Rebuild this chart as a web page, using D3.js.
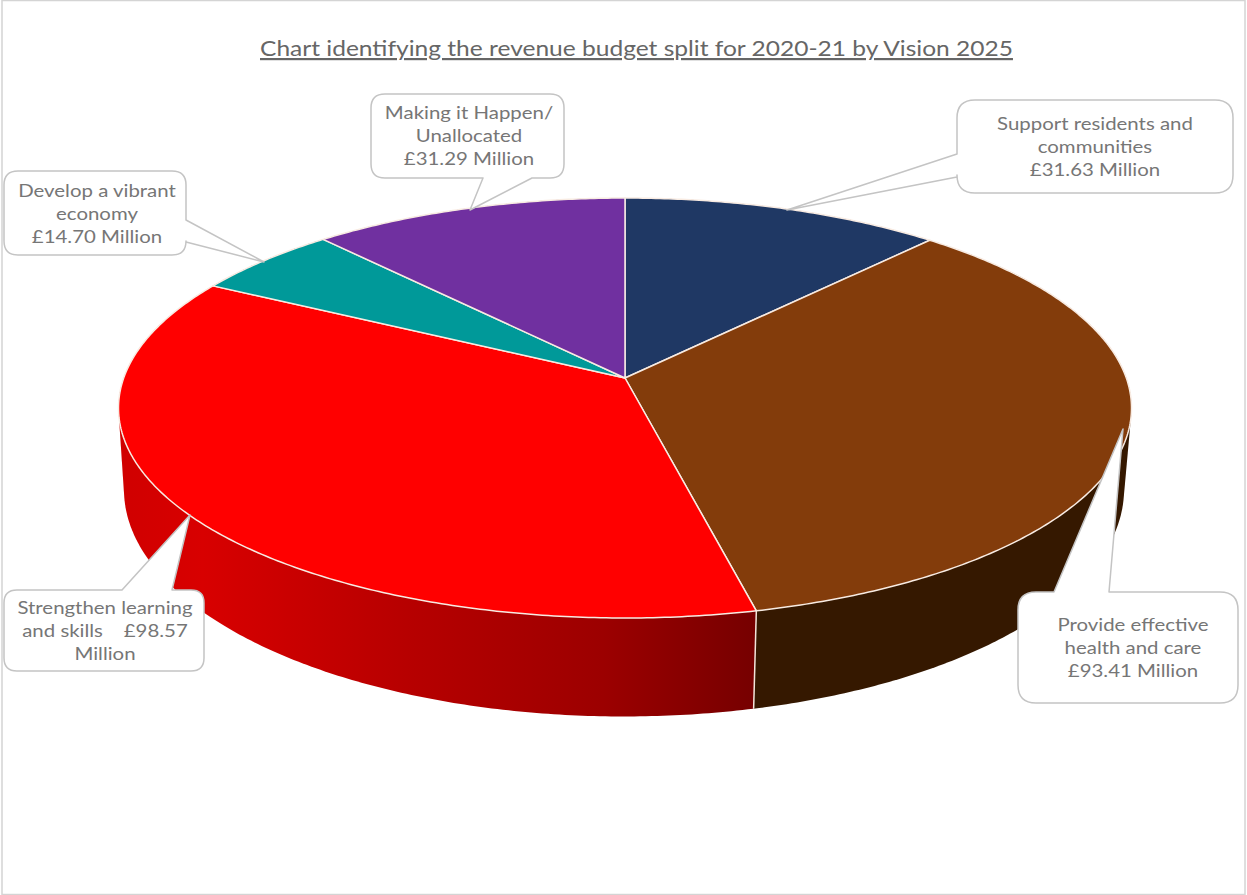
<!DOCTYPE html>
<html>
<head>
<meta charset="utf-8">
<script src="https://cdnjs.cloudflare.com/ajax/libs/d3/7.8.5/d3.min.js"></script>
<style>
html,body{margin:0;padding:0;background:#fff;}
svg{display:block;}
text{font-family:Lato,"Open Sans",sans-serif;}
</style>
</head>
<body>
<svg id="chart" width="1247" height="895"></svg>
<script>
// Revenue budget split, £ million
const categories = [
  "Support residents and communities",
  "Provide effective health and care",
  "Strengthen learning and skills",
  "Develop a vibrant economy",
  "Making it Happen/Unallocated"
];
const budgetMillions = [31.63, 93.41, 98.57, 14.70, 31.29];
const topColours = ["#1f3864", "#833c0b", "#ff0000", "#009999", "#7030a0"];
const titleText = "Chart identifying the revenue budget split for 2020-21 by Vision 2025";
const calloutLines = [
  ["Support residents and", "communities", "£31.63 Million"],
  ["Provide effective", "health and care", "£93.41 Million"],
  ["Strengthen learning", "and skills    £98.57", "Million"],
  ["Develop a vibrant", "economy", "£14.70 Million"],
  ["Making it Happen/", "Unallocated", "£31.29 Million"]
];

const W = 1247, H = 895;
const svg = d3.select("#chart");

// Perspective view of the pie disc: nearer points are drawn larger.
const topDisc = {cx: 625, cy: 378, a: 501.3, b: 205.7, k: 1 / 7};
const baseDisc = {cx: 624, cy: 457, a: 494.9, b: 222.4, k: 1 / 7};
function project(disc, angle) {
  const X = Math.sin(angle), Y = -Math.cos(angle), w = 1 - disc.k * Y;
  return [disc.cx + disc.a * X / w, disc.cy + disc.b * Y / w];
}
function arcPoints(disc, a0, a1) {
  const n = Math.max(2, Math.ceil((a1 - a0) / 0.01));
  return d3.range(n + 1).map(i => project(disc, a0 + (a1 - a0) * i / n));
}

const pie = d3.pie().sort(null).value(d => d);
const arcs = pie(budgetMillions);
const line = d3.line();

const defs = svg.append("defs");
const redWall = defs.append("linearGradient")
  .attr("id", "wall-red")
  .attr("gradientUnits", "userSpaceOnUse")
  .attr("x1", 120).attr("x2", 755).attr("y1", 0).attr("y2", 0);
[[0, "#d00000"], [0.13, "#d80000"], [0.44, "#b80000"], [0.76, "#9c0000"], [1, "#760000"]]
  .forEach(([o, c]) => redWall.append("stop").attr("offset", o).attr("stop-color", c));

// Frame
svg.append("rect")
  .attr("x", 2).attr("y", 0.5).attr("width", W - 4).attr("height", H - 1)
  .attr("fill", "#fff").attr("stroke", "#d4d4d4").attr("stroke-width", 1.5);

// Stretch a text line horizontally about its anchor to the wider lettering of this chart
function stretch(sel, factor) {
  sel.each(function() {
    const len = this.getComputedTextLength();
    d3.select(this).attr("textLength", len * factor).attr("lengthAdjust", "spacingAndGlyphs");
  });
}

// Title
svg.append("text")
  .attr("x", 636.5).attr("y", 56)
  .attr("text-anchor", "middle")
  .attr("font-size", 22)
  .attr("fill", "#666")
  .attr("text-decoration", "underline")
  .text(titleText)
  .call(stretch, 1.115);

// Side walls: the hull of both rims of each slice; the top face covers the part behind it
const wallFill = i => i === 2 ? "url(#wall-red)" : i === 1 ? "#351800" : d3.color(topColours[i]).darker(1.5);
svg.append("g").selectAll("path").data(arcs).join("path")
  .attr("d", d => {
    const upper = arcPoints(topDisc, d.startAngle, d.endAngle);
    const lower = arcPoints(baseDisc, d.startAngle, d.endAngle);
    return line(d3.polygonHull(upper.concat(lower))) + "Z";
  })
  .attr("fill", d => wallFill(d.index));

// Pale seams between front walls
svg.append("g").selectAll("line")
  .data(arcs.filter(d => Math.cos(d.endAngle) < 0))
  .join("line")
  .each(function(d) {
    const p = project(topDisc, d.endAngle), q = project(baseDisc, d.endAngle);
    d3.select(this).attr("x1", p[0]).attr("y1", p[1]).attr("x2", q[0]).attr("y2", q[1]);
  })
  .attr("stroke", "#f3e4da").attr("stroke-width", 1.5);

// Top faces
svg.append("g").selectAll("path").data(arcs).join("path")
  .attr("d", d => {
    const pts = [[topDisc.cx, topDisc.cy]].concat(arcPoints(topDisc, d.startAngle, d.endAngle));
    return line(pts) + "Z";
  })
  .attr("fill", d => topColours[d.index])
  .attr("stroke", "#f8ebe2").attr("stroke-width", 1.5).attr("stroke-linejoin", "round");

// Callouts: rounded box with a wedge running to the slice
const calloutLayout = [
  {l: 957, t: 100, r: 1233, b: 193, rad: 18, side: "left", p0: 154, p1: 177, tip: [787, 210], tx: 1095, ty: 130},
  {l: 1018, t: 592, r: 1238, b: 703, rad: 18, side: "top", p0: 1054, p1: 1109, tip: [1123, 429], tx: 1133, ty: 631},
  {l: 4, t: 590, r: 204, b: 671, rad: 13, side: "top", p0: 122, p1: 172, tip: [190, 515], tx: 105, ty: 614},
  {l: 4, t: 171, r: 186, b: 255, rad: 14, side: "right", p0: 220, p1: 242, tip: [264, 262], tx: 97, ty: 197},
  {l: 371, t: 94, r: 564, b: 178, rad: 14, side: "bottom", p0: 483, p1: 532, tip: [470, 210], tx: 469, ty: 119}
];
function calloutPath(c) {
  const p = d3.path(), {l, t, r, b, rad} = c;
  p.moveTo(l + rad, t);
  if (c.side === "top") { p.lineTo(c.p0, t); p.lineTo(c.tip[0], c.tip[1]); p.lineTo(c.p1, t); }
  p.lineTo(r - rad, t);
  p.quadraticCurveTo(r, t, r, t + rad);
  if (c.side === "right") { p.lineTo(r, c.p0); p.lineTo(c.tip[0], c.tip[1]); p.lineTo(r, c.p1); }
  p.lineTo(r, b - rad);
  p.quadraticCurveTo(r, b, r - rad, b);
  if (c.side === "bottom") { p.lineTo(c.p1, b); p.lineTo(c.tip[0], c.tip[1]); p.lineTo(c.p0, b); }
  p.lineTo(l + rad, b);
  p.quadraticCurveTo(l, b, l, b - rad);
  if (c.side === "left") { p.lineTo(l, c.p1); p.lineTo(c.tip[0], c.tip[1]); p.lineTo(l, c.p0); }
  p.lineTo(l, t + rad);
  p.quadraticCurveTo(l, t, l + rad, t);
  p.closePath();
  return p.toString();
}
const callouts = svg.append("g").selectAll("g").data(calloutLayout).join("g");
callouts.append("path")
  .attr("d", calloutPath)
  .attr("fill", "#fff").attr("stroke", "#c4c4c4").attr("stroke-width", 1.5).attr("stroke-linejoin", "round");
callouts.each(function(c, i) {
  d3.select(this).selectAll("text").data(calloutLines[i]).join("text")
    .attr("x", c.tx).attr("y", (d, j) => c.ty + j * 23.2)
    .attr("text-anchor", "middle")
    .attr("font-size", 17.5)
    .attr("fill", "#767676")
    .style("white-space", "pre")
    .text(d => d)
    .call(stretch, 1.165);
});
</script>
</body>
</html>
